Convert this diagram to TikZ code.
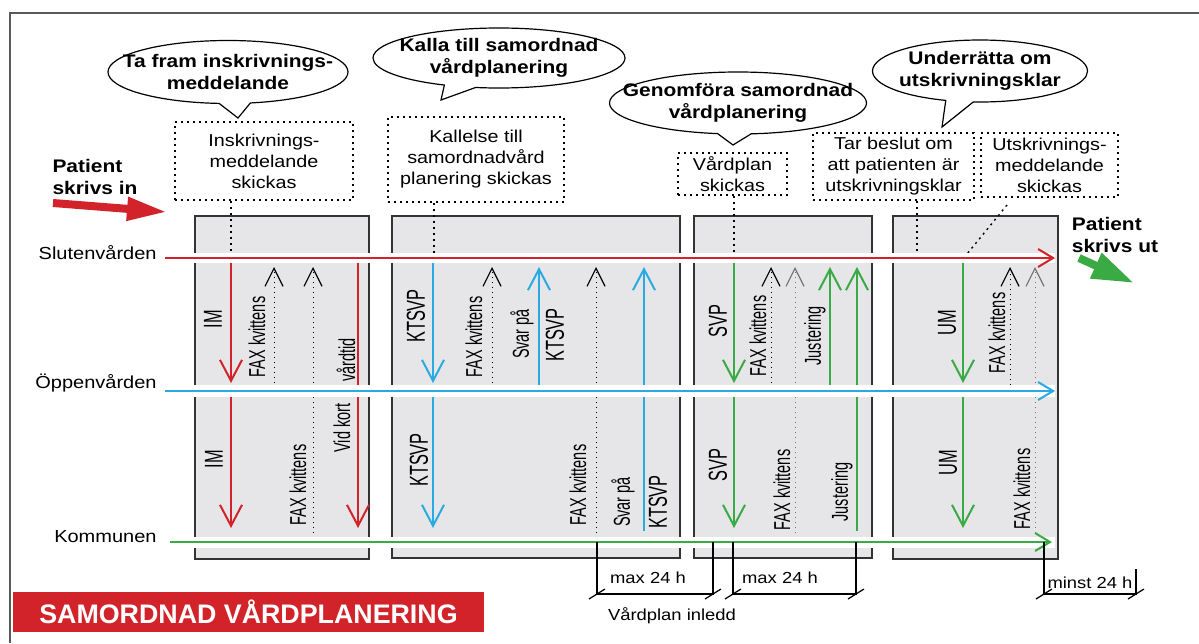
\documentclass[tikz,border=0pt]{standalone}
\usepackage{fontspec}
\setmainfont{Liberation Sans}
\newfontfamily\widefont{Liberation Sans}[FakeStretch=1.15]
\newfontfamily\tallfont{Liberation Sans}[FakeStretch=0.63]
\usetikzlibrary{arrows.meta, shapes.callouts}

\definecolor{svred}{HTML}{D2232A}
\definecolor{ovblue}{HTML}{29ABE2}
\definecolor{kgreen}{HTML}{3AAA45}
\definecolor{boxgray}{HTML}{E6E6E8}

\begin{document}
\begin{tikzpicture}[x=0.5pt, y=-0.5pt,
    lane/.style={line width=1pt, -{Straight Barb[length=7.5pt,width=9pt]}},
    msg/.style={line width=1pt, -{Straight Barb[length=10.5pt,width=11pt]}},
    ack/.style={line width=0.5pt, dotted, -{Straight Barb[length=9pt,width=9pt,line width=0.6pt]}},
    lead/.style={line width=1pt, dotted},
    lanebox/.style={draw=black!80, line width=0.7pt, fill=boxgray},
    band/.style={fill=white},
    tbox/.style={draw, line width=1pt, dotted, inner sep=0pt, align=center,
      font=\widefont\fontsize{8.6}{10.5}\selectfont},
    bubble/.style={ellipse callout, draw, line width=0.6pt, fill=white, inner sep=0pt},
    bubtext/.style={align=center, inner sep=0pt,
      font=\widefont\bfseries\fontsize{9.1}{11}\selectfont},
    lanelabel/.style={anchor=east, inner sep=0pt, font=\widefont\fontsize{8.7}{10}\selectfont},
    vlab/.style={rotate=90, inner sep=0pt, font=\tallfont\fontsize{11.5}{12}\selectfont},
    vabbr/.style={vlab, font=\tallfont\fontsize{13}{14}\selectfont},
    dim/.style={line width=0.6pt},
    dimtext/.style={inner sep=0pt, font=\widefont\fontsize{8}{9}\selectfont},
    patient/.style={align=left, inner sep=0pt, font=\widefont\bfseries\fontsize{9.1}{11}\selectfont},
    bigarrow/.style={line width=4pt, -{Triangle[length=20pt,width=11pt]}},
  ]
  \useasboundingbox (0,0) rectangle (1199,643);

  % frame
  \draw [black!65, line width=1pt] (10,643) -- (10,13) -- (1199,13);

  % speech bubbles
  \node [bubble, minimum width=120pt, minimum height=31.5pt,
    callout absolute pointer={(238,118)},
    label={[bubtext]center:{Ta fram inskrivnings-\\meddelande}}] (b1) at (228,72) {};
  \node [bubble, minimum width=126pt, minimum height=30pt,
    callout absolute pointer={(441,100)},
    label={[bubtext]center:{Kalla till samordnad\\vårdplanering}}] (b2) at (499,58) {};
  \node [bubble, minimum width=128.5pt, minimum height=31pt,
    callout absolute pointer={(733,145)},
    label={[bubtext]center:{Genomföra samordnad\\vårdplanering}}] (b3) at (738,103) {};
  \node [bubble, minimum width=107.5pt, minimum height=31pt,
    callout absolute pointer={(942,127)},
    label={[bubtext]center:{Underrätta om\\utskrivningsklar}}] (b4) at (980,71) {};

  % dotted text boxes
  \node [tbox, minimum width=89pt, minimum height=39pt] (ia) at (264,161)
    {Inskrivnings-\\meddelande\\skickas};
  \node [tbox, minimum width=88pt, minimum height=42.5pt] (kb) at (476,159.5)
    {Kallelse till\\samordnadvård\\planering skickas};
  \node [tbox, minimum width=54.5pt, minimum height=21pt] (vp) at (732.5,174)
    {Vårdplan\\skickas};
  \node [tbox, minimum width=80.5pt, minimum height=33.5pt] (tb) at (893.5,166.5)
    {Tar beslut om\\att patienten är\\utskrivningsklar};
  \node [tbox, minimum width=68.5pt, minimum height=32pt] (ut) at (1049.5,165)
    {Utskrivnings-\\meddelande\\skickas};

  % patient in / out
  \node [patient] (pin) at (95,177) {Patient\\skrivs in};
  \draw [bigarrow, svred] (53,203) -- (167,212);
  \node [patient] (put) at (1115,235) {Patient\\skrivs ut};
  \draw [bigarrow, kgreen, -{Triangle[length=21pt,width=13pt]}] (1079,258) -- (1134,283);

  % grey blocks
  \draw [lanebox] (195,216) rectangle (369,559);
  \draw [lanebox] (392,216) rectangle (680,558);
  \draw [lanebox] (694,216) rectangle (872,558);
  \draw [lanebox] (893,216) rectangle (1058,559);

  % leaders from the boxes
  \draw [lead] (ia.south -| 231,0) -- (231,258);
  \draw [lead] (kb.south -| 434,0) -- (434,258);
  \draw [lead] (vp.south -| 734,0) -- (734,258);
  \draw [lead] (tb.south -| 917,0) -- (917,258);
  \draw [lead, line width=0.7pt] (1007,205) -- (967,254);

  % block 1
  \draw [msg, svred] (231,263) -- (231,383);
  \draw [msg, svred] (231,397) -- (231,528);
  \draw [ack] (274,383) -- (274,267);
  \draw [ack] (313,533) -- (313,267);
  \draw [msg, svred] (358,263) -- (358,528);
  % block 2
  \draw [msg, ovblue] (433,263) -- (433,383);
  \draw [msg, ovblue] (433,397) -- (433,528);
  \draw [ack] (492,383) -- (492,267);
  \draw [msg, ovblue] (539,385) -- (539,267);
  \draw [ack] (596,533) -- (596,267);
  \draw [msg, ovblue] (644,531) -- (644,267);
  % block 3
  \draw [msg, kgreen] (734,263) -- (734,383);
  \draw [msg, kgreen] (734,397) -- (734,528);
  \draw [ack] (771,383) -- (771,267);
  \draw [ack, black!55] (795,533) -- (795,267);
  \draw [msg, kgreen] (830,385) -- (830,267);
  \draw [msg, kgreen] (857,531) -- (857,267);
  % block 4
  \draw [msg, kgreen] (963,263) -- (963,383);
  \draw [msg, kgreen] (963,397) -- (963,528);
  \draw [ack] (1010,385) -- (1010,267);
  \draw [ack, black!55] (1035,533) -- (1035,267);

  % white bands and the three lanes
  \fill [band] (165,253) rectangle (1055,263);
  \fill [band] (165,385) rectangle (1055,397);
  \fill [band] (165,537) rectangle (1055,548);
  \node [lanelabel] (sv) at (157,253) {Slutenvården};
  \node [lanelabel] (ov) at (157,383) {Öppenvården};
  \node [lanelabel] (ko) at (157,537) {Kommunen};
  \draw [lane, svred] (165,258) -- (1055,258);
  \draw [lane, ovblue] (165,391) -- (1055,391);
  \draw [lane, kgreen] (170,542) -- (1052,542);

  % labels on the arrows
  \node [vabbr] (l1) at (213,319) {IM};
  \node [vabbr] (l2) at (214,459) {IM};
  \node [vlab] (l3) at (257,337) {FAX kvittens};
  \node [vlab] (l4) at (298,485) {FAX kvittens};
  \node [vlab] (l5) at (346,360) {vårdtid};
  \node [vlab] (l6) at (342,428) {Vid kort};
  \node [vabbr] (l7) at (416,316) {KTSVP};
  \node [vabbr] (l8) at (419,460) {KTSVP};
  \node [vlab] (l9) at (474,337) {FAX kvittens};
  \node [vlab] (l10) at (522,334) {Svar på};
  \node [vabbr] (l11) at (555,335) {KTSVP};
  \node [vlab] (l12) at (578,485) {FAX kvittens};
  \node [vlab] (l13) at (623,502) {Svar på};
  \node [vabbr] (l14) at (658,502) {KTSVP};
  \node [vabbr] (l15) at (718,321) {SVP};
  \node [vabbr] (l16) at (718,465) {SVP};
  \node [vlab] (l17) at (758,336) {FAX kvittens};
  \node [vlab] (l18) at (815,336) {Justering};
  \node [vlab] (l19) at (782,490) {FAX kvittens};
  \node [vlab] (l20) at (842,492) {Justering};
  \node [vabbr] (l21) at (947,323) {UM};
  \node [vabbr] (l22) at (948,463) {UM};
  \node [vlab] (l23) at (997,333) {FAX kvittens};
  \node [vlab] (l24) at (1022,489) {FAX kvittens};

  % time spans
  \draw [dim] (597,542) -- (597,594) -- (713,594) -- (713,542);
  \draw [dim] (733,542) -- (733,594) -- (856,594) -- (856,542);
  \draw [dim] (1044,542) -- (1044,594) -- (1136,594) -- (1136,569);
  \draw [dim] (589,599) -- (605,589);
  \draw [dim] (705,599) -- (721,589);
  \draw [dim] (725,599) -- (741,589);
  \draw [dim] (848,599) -- (864,589);
  \draw [dim] (1036,599) -- (1052,589);
  \draw [dim] (1128,599) -- (1144,589);
  \node [dimtext] (m1) at (648,578) {max 24 h};
  \node [dimtext] (m2) at (780,578) {max 24 h};
  \node [dimtext] (m3) at (1090,583) {minst 24 h};
  \node [dimtext] (vi) at (672,616) {Vårdplan inledd};

  % title
  \node [fill=svred, text=white, minimum width=235.5pt, minimum height=20pt, inner sep=0pt,
    font=\bfseries\fontsize{13.4}{16}\selectfont] (ttl) at (248.5,612) {SAMORDNAD VÅRDPLANERING};
\end{tikzpicture}
\end{document}
